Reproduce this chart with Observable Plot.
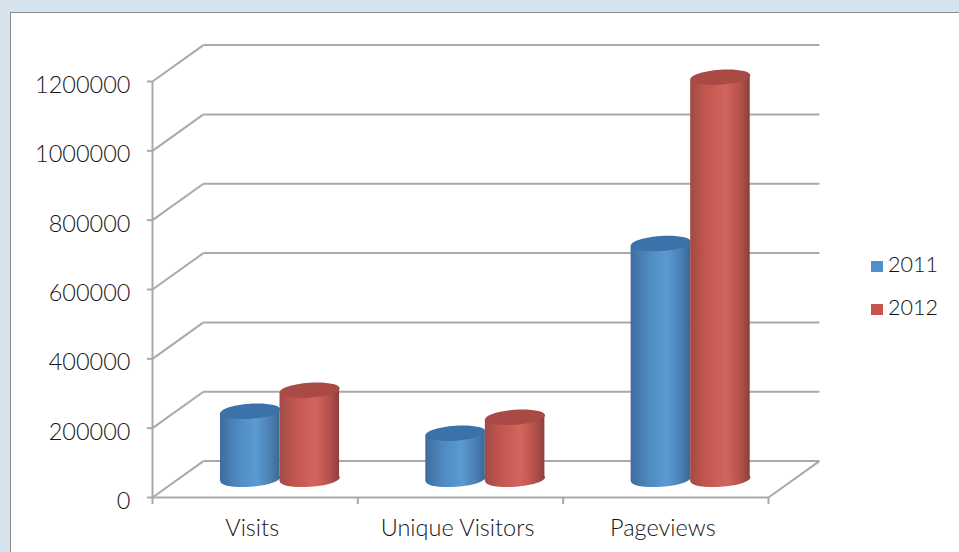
<!DOCTYPE html>
<html>
<head>
<meta charset="utf-8">
<script src="https://cdn.jsdelivr.net/npm/d3@7"></script>
<script src="https://cdn.jsdelivr.net/npm/@observablehq/plot@0.6"></script>
<style>
  html, body { margin: 0; width: 959px; height: 552px; overflow: hidden; background: #d5e3ef; }
  #panel { position: absolute; left: 10px; top: 12px; width: 960px; height: 560px; background: #fff; border: 1.5px solid #8c8c8c; }
  #chart { position: absolute; left: 0; top: 0; }
  .key { position: absolute; left: 871px; font: 300 21.5px Lato, sans-serif; color: #111; line-height: 24px; }
  .key i { display: inline-block; width: 12px; height: 11px; margin-right: 5px; }
</style>
</head>
<body>
<div id="panel"></div>
<div id="chart"></div>
<div class="key" style="top:252px"><i style="background:#4f8fcb"></i>2011</div>
<div class="key" style="top:295px"><i style="background:#c9534d"></i>2012</div>
<script>
const categories = ["Visits", "Unique Visitors", "Pageviews"];
const years = [2011, 2012];
const values2011 = [196000, 133000, 680000];
const values2012 = [257000, 179000, 1160000];
const yTicks = [0, 200000, 400000, 600000, 800000, 1000000, 1200000];

// Oblique projection, in scale units: the back wall sits this far right and up.
const depthX = 0.248;
const depthY = 105000;
const columnWidth = 0.29;
// Vertical drop of a cap's rim from its right end to its centre, in y units.
const capTilt = 6000;

const columns = [values2011, values2012].map((values, s) =>
  categories.map((category, i) => {
    const xc = i + 0.5 + depthX / 2 - 0.003 + (s - 0.5) * columnWidth;
    return { category, year: years[s], value: values[i], xc, base: depthY / 2, top: depthY / 2 + values[i] };
  })
);

// Each column body is a parallelogram whose ends meet the rims of its tilted caps.
const bodyOutline = (data) =>
  data.flatMap((d) => [
    { category: d.category, x: d.xc - columnWidth / 2, lo: d.base - capTilt, hi: d.top - capTilt },
    { category: d.category, x: d.xc + columnWidth / 2, lo: d.base + capTilt, hi: d.top + capTilt }
  ]);

// Slightly tilted flat ellipse, used for the cylinder caps.
const cap = {
  draw(context, size) {
    const r = Math.sqrt(size / Math.PI);
    const ry = r * 0.25;
    const t = -4 * Math.PI / 180;
    const p = (a, b) => [a * Math.cos(t) - b * Math.sin(t), a * Math.sin(t) + b * Math.cos(t)];
    const k = 0.5523;
    context.moveTo(...p(r, 0));
    context.bezierCurveTo(...p(r, k * ry), ...p(k * r, ry), ...p(0, ry));
    context.bezierCurveTo(...p(-k * r, ry), ...p(-r, k * ry), ...p(-r, 0));
    context.bezierCurveTo(...p(-r, -k * ry), ...p(-k * r, -ry), ...p(0, -ry));
    context.bezierCurveTo(...p(k * r, -ry), ...p(r, -k * ry), ...p(r, 0));
    context.closePath();
  }
};

// Horizontal shading that gives the columns their round look.
function shading() {
  const defs = d3.create("svg:defs");
  const stops = {
    shade2011: [[0, "#3e6d9c"], [0.3, "#4f8ac2"], [0.6, "#5c9ad3"], [0.85, "#4a7fb3"], [1, "#3b6896"]],
    shade2012: [[0, "#a04b46"], [0.25, "#c2554e"], [0.6, "#d2655d"], [0.85, "#b3504a"], [1, "#8c3f3b"]]
  };
  for (const [id, list] of Object.entries(stops)) {
    const g = defs.append("linearGradient").attr("id", id);
    for (const [o, c] of list) g.append("stop").attr("offset", o).attr("stop-color", c);
  }
  return defs.node();
}

const wall = "#a9a9a9";
const capColors = ["#3b72aa", "#a94a44"];
const ink = "#161616";

const chart = Plot.plot({
  width: 959,
  height: 552,
  marginLeft: 152,
  marginRight: 191,
  marginTop: 81,
  marginBottom: 55,
  style: { background: "transparent", fontFamily: "Lato, sans-serif" },
  x: { domain: [0, 3], axis: null },
  y: { domain: [0, 1200000], axis: null },
  marks: [
    shading,
    // Back wall and floor
    Plot.link(yTicks, {
      x1: 0, y1: d => d,
      x2: depthX, y2: d => d + depthY,
      stroke: wall, strokeWidth: 2
    }),
    Plot.link(yTicks, {
      x1: depthX, y1: d => d + depthY,
      x2: 3 + depthX, y2: d => d + depthY,
      stroke: wall, strokeWidth: 2
    }),
    Plot.link([0], { x1: 3, y1: 0, x2: 3 + depthX, y2: depthY, stroke: wall, strokeWidth: 2 }),
    // Front axes
    Plot.ruleX([0], { y1: 0, y2: 1200000, stroke: wall, strokeWidth: 2 }),
    Plot.ruleY([0], { x1: 0, x2: 3, stroke: wall, strokeWidth: 2 }),
    Plot.axisX({
      ticks: [0, 1, 2, 3], tickSize: 7, tickFormat: () => "", stroke: wall, strokeWidth: 2, label: null
    }),
    Plot.axisY({
      ticks: yTicks, tickSize: 5, tickFormat: () => "", stroke: wall, strokeWidth: 2, label: null
    }),
    // Tick values are set apart so they can sit just below their tick lines.
    Plot.text(yTicks, {
      x: 0, y: d => d, text: d => String(d), textAnchor: "end", dx: -22, dy: 4,
      fontSize: 23.5, fontWeight: 300, fill: ink
    }),
    Plot.text(categories, {
      x: (d, i) => i + 0.5, y: 0, text: d => d, dx: -3, dy: 31,
      fontSize: 23.5, fontWeight: 300, fill: ink
    }),
    // Cylinders, earlier year first so the later one overlaps it
    ...columns.flatMap((data, s) => {
      const fill = `url(#shade${years[s]})`;
      return [
        Plot.dot(data, { x: "xc", y: "base", symbol: cap, r: 30, fill, stroke: "none" }),
        Plot.areaY(bodyOutline(data), { x: "x", y1: "lo", y2: "hi", z: "category", fill }),
        Plot.dot(data, { x: "xc", y: "top", symbol: cap, r: 30, fill: capColors[s], stroke: "none" })
      ];
    })
  ]
});
document.getElementById("chart").append(chart);
</script>
</body>
</html>
